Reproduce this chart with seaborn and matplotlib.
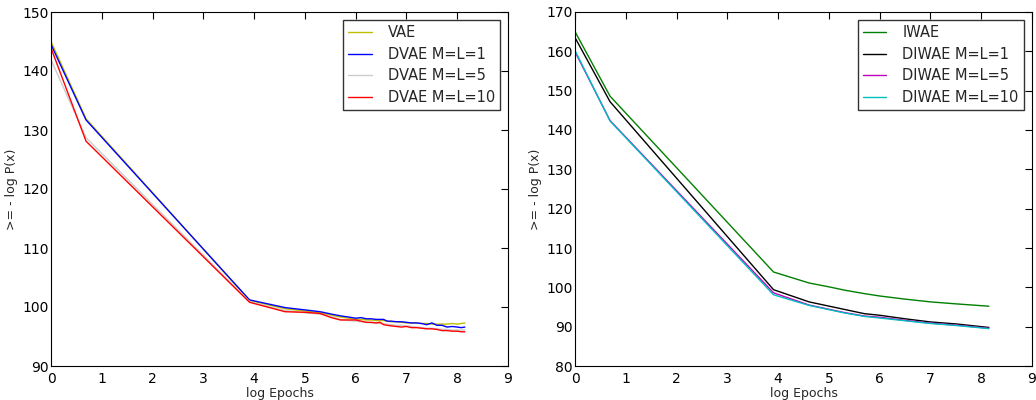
import matplotlib
matplotlib.use("Agg")
import matplotlib.pyplot as plt
import seaborn as sns
import pandas as pd

# ---------------- Data ----------------
# x = log(epochs)
x_left = [0.0, 0.69, 3.91, 4.61, 5.01, 5.30, 5.52, 5.70, 5.86, 6.00, 6.11, 6.21,
          6.31, 6.40, 6.48, 6.55, 6.62, 6.70, 6.80, 6.90, 7.00, 7.10, 7.20, 7.30,
          7.40, 7.50, 7.60, 7.70, 7.80, 7.90, 8.00, 8.08, 8.15]

vae = [145.0, 131.9, 101.1, 99.7, 99.3, 99.0, 98.6, 98.3, 98.1, 97.9, 97.9, 97.8,
       97.8, 97.7, 97.7, 97.7, 97.6, 97.5, 97.5, 97.4, 97.3, 97.3, 97.3, 97.2,
       97.2, 97.1, 97.1, 97.1, 97.1, 97.2, 97.1, 97.2, 97.3]
dvae_1 = [144.5, 131.7, 101.2, 99.9, 99.5, 99.2, 98.8, 98.5, 98.3, 98.1, 98.2, 98.0,
          98.0, 97.9, 97.9, 97.9, 97.6, 97.6, 97.5, 97.5, 97.4, 97.3, 97.3, 97.2,
          97.0, 97.3, 96.9, 96.9, 96.6, 96.7, 96.6, 96.5, 96.6]
dvae_5 = [141.9, 128.7, 100.9, 99.4, 99.0, 98.8, 98.4, 97.9, 97.7, 97.6, 97.5, 97.4,
          97.3, 97.3, 97.2, 97.2, 97.1, 97.0, 96.9, 96.9, 96.8, 96.7, 96.6, 96.5,
          96.4, 96.4, 96.3, 96.2, 96.2, 96.1, 96.1, 96.1, 96.1]
dvae_10 = [143.9, 128.1, 100.8, 99.2, 99.1, 98.9, 98.2, 97.8, 97.8, 97.8, 97.6, 97.4,
           97.4, 97.3, 97.4, 97.0, 96.9, 96.8, 96.7, 96.6, 96.7, 96.5, 96.5, 96.4,
           96.3, 96.3, 96.2, 96.0, 96.0, 95.9, 95.9, 95.8, 95.8]

x_right = [0.0, 0.69, 3.91, 4.61, 5.01, 5.30, 5.70, 6.00, 6.50, 7.00, 7.50, 8.15]

iwae = [165.0, 148.6, 103.9, 101.1, 100.1, 99.3, 98.4, 97.8, 97.0, 96.3, 95.8, 95.2]
diwae_1 = [163.5, 147.2, 99.4, 96.3, 95.2, 94.4, 93.3, 92.9, 92.0, 91.2, 90.7, 89.8]
diwae_5 = [159.9, 142.4, 98.6, 95.5, 94.4, 93.6, 92.7, 92.4, 91.6, 90.9, 90.4, 89.6]
diwae_10 = [160.2, 142.3, 98.1, 95.4, 94.3, 93.5, 92.6, 92.2, 91.5, 90.8, 90.3, 89.5]

left_labels = ["VAE", "DVAE M=L=1", "DVAE M=L=5", "DVAE M=L=10"]
right_labels = ["IWAE", "DIWAE M=L=1", "DIWAE M=L=5", "DIWAE M=L=10"]
left_colors = [(0.75, 0.75, 0.0), (0.0, 0.0, 1.0), (0.8, 0.8, 0.8), (1.0, 0.0, 0.0)]
right_colors = [(0.0, 0.5, 0.0), (0.0, 0.0, 0.0), (0.75, 0.0, 0.75), (0.0, 0.75, 0.75)]


def to_long(x, series, labels):
    frames = []
    for vals, lab in zip(series, labels):
        frames.append(pd.DataFrame({"x": x, "y": vals, "model": lab}))
    return pd.concat(frames, ignore_index=True)


sns.set_style("white")
plt.rcParams["font.family"] = ["DejaVu Sans"]

fig = plt.figure(figsize=(10.36, 4.0), dpi=100)
ax1 = fig.add_axes([51 / 1036, 34 / 400, 457 / 1036, 354 / 400])
ax2 = fig.add_axes([575 / 1036, 34 / 400, 457 / 1036, 354 / 400])

panels = [
    (ax1, x_left, [vae, dvae_1, dvae_5, dvae_10], left_labels, left_colors, (90, 150), range(90, 151, 10)),
    (ax2, x_right, [iwae, diwae_1, diwae_5, diwae_10], right_labels, right_colors, (80, 170), range(80, 171, 10)),
]

for ax, x, series, labels, colors, ylim, yticks in panels:
    df = to_long(x, series, labels)
    sns.lineplot(data=df, x="x", y="y", hue="model", hue_order=labels,
                 palette=colors, linewidth=1.0, ax=ax, sort=False)
    ax.set_xlim(0, 9)
    ax.set_ylim(*ylim)
    ax.set_xticks(range(0, 10))
    ax.set_yticks(list(yticks))
    ax.set_xlabel("log Epochs", fontsize=9, labelpad=1)
    ax.set_ylabel(">= - log P(x)", fontsize=9, labelpad=3)
    ax.tick_params(direction="in", top=True, right=True, length=5, width=0.8,
                   labelsize=10, colors="black")
    ax.tick_params(axis="x", pad=4)
    ax.tick_params(axis="y", pad=1.5)
    for s in ax.spines.values():
        s.set_color("black")
        s.set_linewidth(0.8)
    leg = ax.legend(loc="upper right", fontsize=10.5, frameon=True, fancybox=False,
                    handlelength=1.6, handletextpad=1.1, borderpad=0.35,
                    labelspacing=0.45, borderaxespad=0.55)
    leg.get_frame().set_edgecolor("black")
    leg.get_frame().set_linewidth(1.0)

fig.savefig("out.png", dpi=100)
